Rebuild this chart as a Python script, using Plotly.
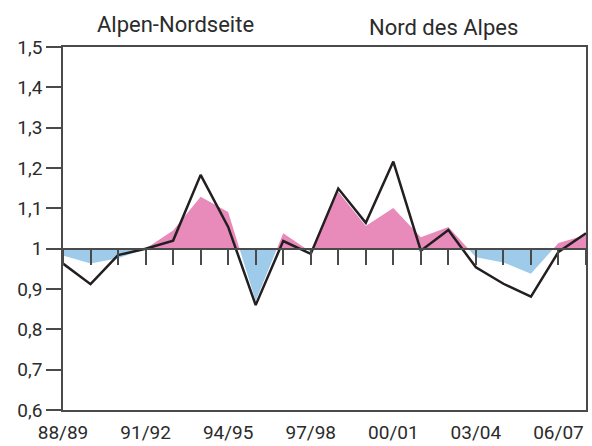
import plotly.graph_objects as go

seasons = ["88/89", "89/90", "90/91", "91/92", "92/93", "93/94", "94/95", "95/96",
           "96/97", "97/98", "98/99", "99/00", "00/01", "01/02", "02/03", "03/04",
           "04/05", "05/06", "06/07", "07/08"]
line_values = [0.963, 0.912, 0.984, 1.000, 1.020, 1.183, 1.054, 0.860, 1.019, 0.987,
               1.149, 1.064, 1.216, 0.995, 1.046, 0.954, 0.913, 0.881, 0.992, 1.038]
area_values = [0.983, 0.963, 0.976, 1.000, 1.045, 1.129, 1.091, 0.870, 1.038, 0.992,
               1.141, 1.056, 1.101, 1.028, 1.054, 0.979, 0.966, 0.938, 1.014, 1.034]
reference_level = [1.0] * len(seasons)
y_ticks = [0.6, 0.7, 0.8, 0.9, 1.0, 1.1, 1.2, 1.3, 1.4, 1.5]
y_tick_labels = ["0,6", "0,7", "0,8", "0,9", "1", "1,1", "1,2", "1,3", "1,4", "1,5"]
x_tick_labels = seasons[::3]
titles = ["Alpen-Nordseite", "Nord des Alpes"]

x = list(range(len(seasons)))
y_lo, y_hi = 0.6, 1.5
split = (1.0 - y_lo) / (y_hi - y_lo)
x_range = [0, len(seasons) - 1]

PINK = "#E88BBA"
BLUE = "#9FCBEA"
AXC = "#4a4a4a"
FONT = "Roboto"
CLEAR = "rgba(0,0,0,0)"

hidden_axis = dict(showticklabels=False, showline=False, ticks="", showgrid=False,
                   zeroline=False, fixedrange=True, automargin=False)

fig = go.Figure()

# invisible trace so the main xy frame exists
fig.add_trace(go.Scatter(x=x, y=reference_level, xaxis="x", yaxis="y", mode="lines",
                         line=dict(width=0, color=CLEAR), hoverinfo="skip"))
# pink part (above 1) - clipped to upper subplot
fig.add_trace(go.Scatter(x=x, y=reference_level, xaxis="x", yaxis="y2", mode="lines",
                         line=dict(width=0, color=CLEAR), hoverinfo="skip"))
fig.add_trace(go.Scatter(x=x, y=area_values, xaxis="x", yaxis="y2", mode="lines",
                         line=dict(width=0, color=CLEAR), fill="tonexty", fillcolor=PINK,
                         hoverinfo="skip"))
# blue part (below 1) - clipped to lower subplot
fig.add_trace(go.Scatter(x=x, y=reference_level, xaxis="x", yaxis="y3", mode="lines",
                         line=dict(width=0, color=CLEAR), hoverinfo="skip"))
fig.add_trace(go.Scatter(x=x, y=area_values, xaxis="x", yaxis="y3", mode="lines",
                         line=dict(width=0, color=CLEAR), fill="tonexty", fillcolor=BLUE,
                         hoverinfo="skip"))
# black line on top (last subplot)
fig.add_trace(go.Scatter(x=x, y=line_values, xaxis="x2", yaxis="y4", mode="lines",
                         line=dict(color="#231f20", width=2.5)))

fig.update_layout(
    width=592, height=446,
    margin=dict(l=63, r=6, t=47, b=36, autoexpand=False),
    paper_bgcolor="white", plot_bgcolor=CLEAR,
    font=dict(family=FONT, size=19, color="#2b2b2b"),
    showlegend=False,
    xaxis=dict(range=x_range, domain=[0, 1], anchor="y", automargin=False,
               tickvals=x[::3], ticktext=x_tick_labels,
               ticks="outside", ticklen=4, tickcolor=CLEAR,
               showline=True, linecolor=AXC, linewidth=1.5, mirror=True,
               showgrid=False, zeroline=False, tickfont=dict(size=19)),
    yaxis=dict(range=[y_lo, y_hi], domain=[0, 1], anchor="x", automargin=False,
               tickvals=y_ticks, ticktext=y_tick_labels,
               ticks="outside", ticklen=15, tickwidth=1.5, tickcolor=AXC,
               showline=True, linecolor=AXC, linewidth=1.5, mirror=True,
               showgrid=False, zeroline=False, tickfont=dict(size=19)),
    yaxis2=dict(range=[1.0, y_hi], domain=[split, 1], anchor="x", **hidden_axis),
    yaxis3=dict(range=[y_lo, 1.0], domain=[0, split], anchor="x", **hidden_axis),
    xaxis2=dict(range=x_range, domain=[0, 1], anchor="free", position=split,
                side="bottom", tickvals=x, automargin=False,
                ticks="outside", ticklen=16, tickwidth=1.5, tickcolor=AXC,
                showticklabels=False, showline=True, linecolor=AXC, linewidth=1.5,
                showgrid=False, zeroline=False),
    yaxis4=dict(range=[y_lo, y_hi], domain=[0, 1], anchor="x2", **hidden_axis),
    annotations=[
        dict(text=titles[0], xref="paper", yref="paper", x=0.216, y=1.063,
             xanchor="center", yanchor="middle", showarrow=False,
             font=dict(size=22, family=FONT, color="#2b2b2b")),
        dict(text=titles[1], xref="paper", yref="paper", x=0.727, y=1.055,
             xanchor="center", yanchor="middle", showarrow=False,
             font=dict(size=22, family=FONT, color="#2b2b2b")),
    ],
)

fig.write_html("out.html", config={"displayModeBar": False},
               post_script="document.body.style.margin='0px';")
